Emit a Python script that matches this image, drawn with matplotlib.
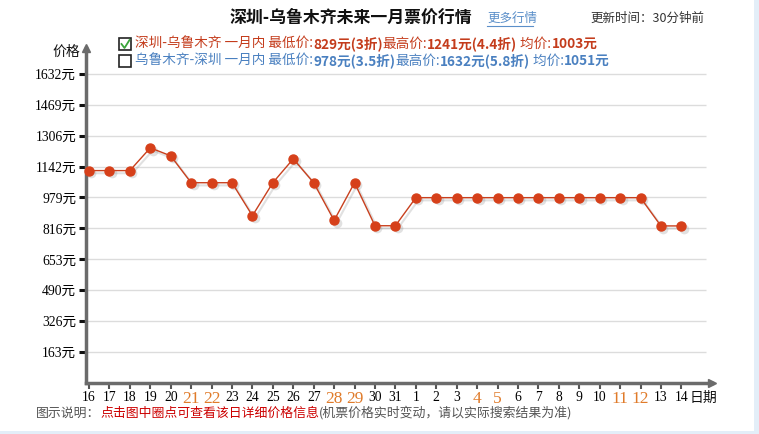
import numpy as np
import matplotlib.pyplot as plt
from matplotlib.patches import Rectangle
from matplotlib.lines import Line2D

plt.rcParams['font.family'] = ['Noto Sans CJK SC', 'DejaVu Sans']

# 数据
dates = ['16', '17', '18', '19', '20', '21', '22', '23', '24', '25', '26', '27', '28', '29', '30', '31',
         '1', '2', '3', '4', '5', '6', '7', '8', '9', '10', '11', '12', '13', '14']
weekend = ['21', '22', '28', '29', '4', '5', '11', '12']
prices = [1121, 1121, 1121, 1241, 1199, 1057, 1057, 1057, 883, 1057, 1183, 1057, 858, 1057, 830, 830,
          978, 978, 978, 978, 978, 978, 978, 978, 978, 978, 978, 978, 829, 829]
ytick_vals = [163.2 * k for k in range(1, 11)]
ytick_labels = ['163元', '326元', '490元', '653元', '816元', '979元', '1142元', '1306元', '1469元', '1632元']

W, H = 759, 434
fig = plt.figure(figsize=(W / 100, H / 100), dpi=100)
fig.patch.set_facecolor('white')

def fx(px):
    return px / W

def fy(py):
    return 1 - py / H

# 坐标区
ax = fig.add_axes([fx(86), fy(383), fx(712) - fx(86), (383 - 48) / H])
ax.set_xlim(-0.147, 30.5)
ax.set_ylim(0, 1768)
ax.patch.set_alpha(0)
for s in ['top', 'right']:
    ax.spines[s].set_visible(False)
for s in ['left', 'bottom']:
    ax.spines[s].set_color('#6b6b6b')
    ax.spines[s].set_linewidth(2.5)

x = np.arange(len(dates))
ax.hlines(ytick_vals, -0.147, 30.2, color='#dcdcdc', lw=1, zorder=1)

# 阴影 + 折线
ax.plot(x + 0.12, np.array(prices) - 14, color='#888888', alpha=0.25, lw=1.5, zorder=2,
        marker='o', ms=7, mec='none')
ax.plot(x, prices, color='#c8401e', lw=1, marker='o', ms=6.5, mfc='#d6401a', mec='#d6401a',
        zorder=3, clip_on=False)

# 轴
ax.set_yticks(ytick_vals)
ax.set_yticklabels(ytick_labels, family=['Liberation Serif', 'Noto Sans CJK SC'], fontsize=9.8)
ax.tick_params(axis='y', length=5, width=2.2, color='#111111', pad=2)
ax.set_xticks(x)
ax.set_xticklabels(dates, family=['Liberation Serif'], fontsize=9.8)
ax.tick_params(axis='x', length=4, width=1.5, color='#555555', pad=2)
for lab in ax.get_xticklabels():
    if lab.get_text() in weekend:
        lab.set_color('#e07b2a')
        lab.set_fontsize(12.5)

# 箭头
ax.plot([0], [1], marker='^', ms=6, color='#6b6b6b', transform=ax.transAxes, clip_on=False, zorder=5)
ax.plot([1], [0], marker='>', ms=6, color='#6b6b6b', transform=ax.transAxes, clip_on=False, zorder=5)

fig.text(fx(80), fy(52), '价格', ha='right', va='center', fontsize=10, color='#111111')
fig.text(fx(690), fy(398), '日期', ha='left', va='center', fontsize=10, color='#111111')

# 标题
fig.text(fx(230), fy(18), '深圳-乌鲁木齐未来一月票价行情', ha='left', va='center',
         fontsize=12.2, weight='bold', color='#111111')
fig.text(fx(487), fy(18), '更多行情', ha='left', va='center', fontsize=9, color='#5b8fc9')
fig.add_artist(Line2D([fx(487), fx(533)], [fy(26), fy(26)], color='#5b8fc9', lw=0.8))
fig.text(fx(590), fy(18), '更新时间：30分钟前', ha='left', va='center', fontsize=9, color='#333333')

# 图例
renderer = fig.canvas.get_renderer()

def seq_text(x0, y0, parts, size=9):
    xx = fx(x0)
    for txt, col, wt in parts:
        t = fig.text(xx, fy(y0), txt, ha='left', va='center', fontsize=size, color=col, weight=wt)
        bb = t.get_window_extent(renderer)
        xx += bb.width / W

red = '#c43c1c'
blue = '#4a80c0'
seq_text(135, 44, [('深圳-乌鲁木齐 一月内 最低价:', red, 'normal'), ('829元(3折)', red, 'bold'),
                   ('最高价:', red, 'normal'), ('1241元(4.4折)', red, 'bold'),
                   (' 均价:', red, 'normal'), ('1003元', red, 'bold')], size=9.8)
seq_text(135, 61, [('乌鲁木齐-深圳 一月内 最低价:', blue, 'normal'), ('978元(3.5折)', blue, 'bold'),
                   ('最高价:', blue, 'normal'), ('1632元(5.8折)', blue, 'bold'),
                   (' 均价:', blue, 'normal'), ('1051元', blue, 'bold')], size=9.8)

for cy in (44, 61):
    fig.add_artist(Rectangle((fx(119), fy(cy + 6)), 12 / W, 12 / H, fill=False,
                             edgecolor='#222222', lw=1.2))
fig.add_artist(Line2D([fx(121.5), fx(124.5), fx(129.5)], [fy(44), fy(48), fy(40)],
                      color='#3aa53a', lw=1.3))

# 说明
seq_text(36, 413, [('图示说明：', '#555555', 'normal'),
                   ('点击图中圈点可查看该日详细价格信息', '#cc0000', 'normal'),
                   ('(机票价格实时变动，请以实际搜索结果为准)', '#555555', 'normal')], size=9.3)

# 边框
fig.add_artist(Rectangle((fx(754), 0), 5 / W, 1, color='#e3eef8', lw=0))
fig.add_artist(Rectangle((0, 0), 1, 3 / H, color='#e3eef8', lw=0))

fig.savefig('out.png', dpi=100)
